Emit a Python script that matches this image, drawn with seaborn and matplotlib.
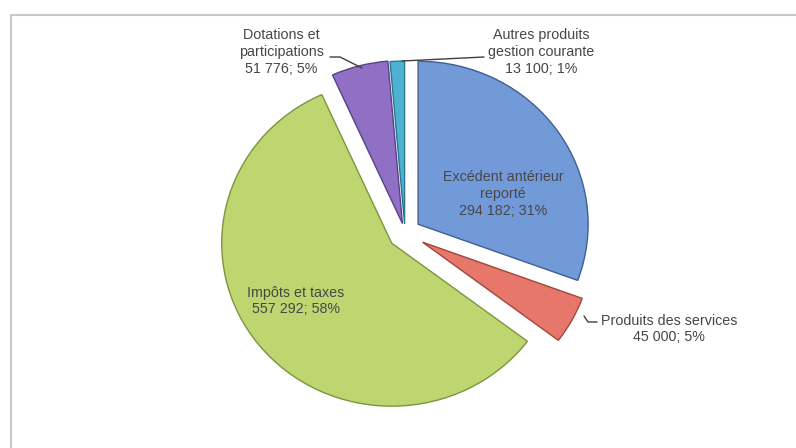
import matplotlib
matplotlib.use("Agg")
import matplotlib.pyplot as plt
import seaborn as sns
from matplotlib.patches import Rectangle

# budget recettes de fonctionnement
categories = ["Excédent antérieur\nreporté", "Produits des services", "Impôts et taxes",
              "Dotations et\nparticipations", "Autres produits\ngestion courante"]
values = [294182, 45000, 557292, 51776, 13100]
value_labels = ["294 182", "45 000", "557 292", "51 776", "13 100"]
explode = [0.094, 0.118, 0.10, 0.06, 0.055]  # fraction of radius

sns.set_theme(style="white")
plt.rcParams["font.family"] = ["Liberation Sans", "DejaVu Sans"]

colors = sns.color_palette(["#729ad8", "#e8776b", "#bdd66f", "#8f70c4", "#4db2d2"])
edges = ["#3f5f94", "#a0463c", "#7e9440", "#5a4185", "#2a7890"]

R = 170
K = 163 / 170  # slight vertical squash of the pie, like the original


def py(ypx):
    # pixel row -> data y
    return (448 - ypx) / K


fig = plt.figure(figsize=(7.96, 4.48), dpi=100)
ax = fig.add_axes([0, 0, 1, 1])

# frame of the chart area
ax.add_patch(Rectangle((11, py(460)), 800, py(15) - py(460), fill=False,
                       edgecolor="#c9c9c9", linewidth=1.5))

total = sum(values)
pct = [round(v / total * 100) for v in values]
texts = [f"{c}\n{v}; {p}%" for c, v, p in zip(categories, value_labels, pct)]

# pie explode is in data units, so scale by the radius
wedges, _ = ax.pie(values, explode=[e * R for e in explode], colors=colors,
                   startangle=90, counterclock=False, center=(405, py(233)), radius=R,
                   wedgeprops=dict(linewidth=1.0))
for w, e in zip(wedges, edges):
    w.set_edgecolor(e)
ax.set_xlim(0, 796)
ax.set_ylim(0, py(0))
ax.set_aspect("auto")
ax.axis("off")

kw = dict(ha="center", va="center", fontsize=10.3, color="#474747", linespacing=1.25)
ax.text(503, py(194), texts[0], **kw)
ax.text(296, py(301), texts[2], **kw)
ax.text(669, py(329), texts[1], **kw)
ax.text(281, py(52), texts[3], **kw)
ax.text(541, py(52), texts[4], **kw)

# leader lines
ax.plot([330, 340, 362], [py(57), py(57), py(68)], color="#404040", lw=1)
ax.plot([484, 402], [py(57), py(61)], color="#404040", lw=1)
ax.plot([597, 588, 584], [py(322), py(322), py(316)], color="#404040", lw=1)

fig.savefig("out.png", dpi=100)
